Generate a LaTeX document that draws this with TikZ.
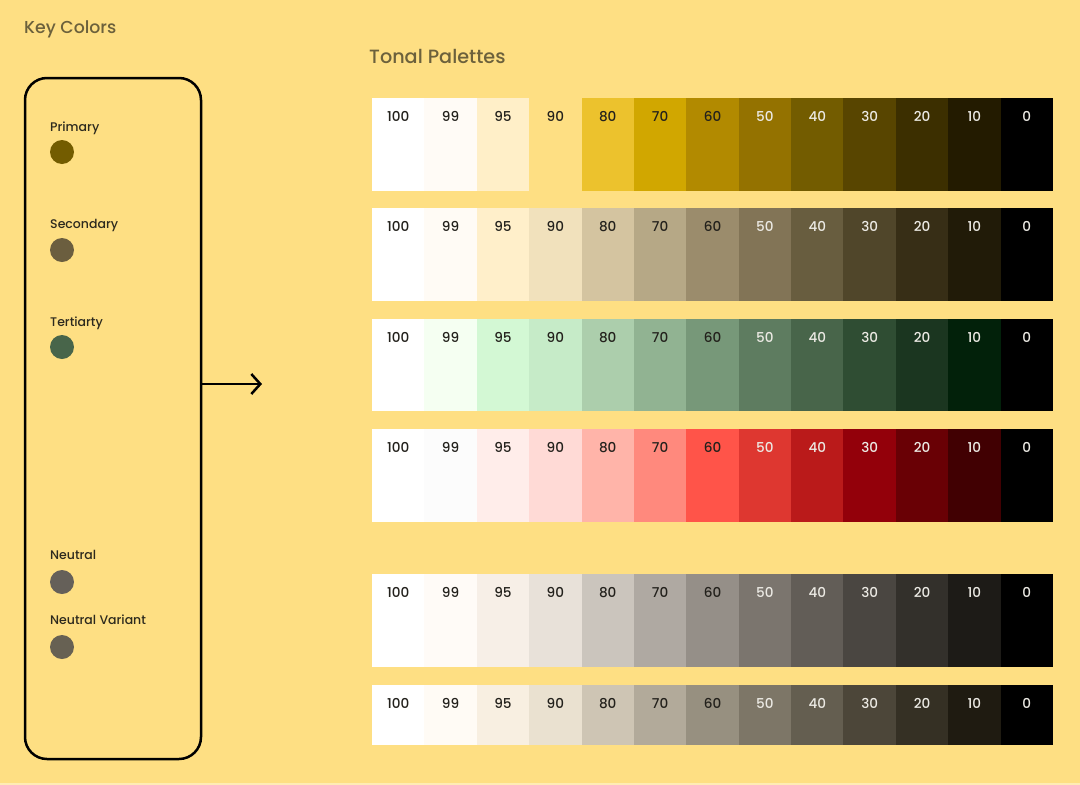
\documentclass[tikz,border=0pt]{standalone}
\usepackage{fontspec}
\setmainfont{Poppins}
\newfontfamily\titlefont{Poppins Medium}
\usetikzlibrary{arrows.meta}
\definecolor{bg}{RGB}{254,223,131}
\definecolor{titlec}{RGB}{108,97,60}
\definecolor{labc}{RGB}{45,42,30}
\definecolor{darknum}{RGB}{35,33,28}
\definecolor{lightnum}{RGB}{236,234,228}
% key colours
\definecolor{kprimary}{RGB}{115,92,0}
\definecolor{ksecondary}{RGB}{107,94,63}
\definecolor{ktertiary}{RGB}{72,101,74}
\definecolor{kneutral}{RGB}{101,96,89}
\definecolor{kneutralv}{RGB}{103,97,83}
% primary
\definecolor{p100}{RGB}{255,255,255}\definecolor{p99}{RGB}{255,251,246}\definecolor{p95}{RGB}{255,239,200}
\definecolor{p90}{RGB}{254,223,131}\definecolor{p80}{RGB}{236,194,45}\definecolor{p70}{RGB}{209,167,0}
\definecolor{p60}{RGB}{178,138,0}\definecolor{p50}{RGB}{148,114,0}\definecolor{p40}{RGB}{115,92,0}
\definecolor{p30}{RGB}{88,69,0}\definecolor{p20}{RGB}{60,47,0}\definecolor{p10}{RGB}{35,27,0}\definecolor{p0}{RGB}{0,0,0}
% secondary
\definecolor{s100}{RGB}{255,255,255}\definecolor{s99}{RGB}{255,251,245}\definecolor{s95}{RGB}{255,239,202}
\definecolor{s90}{RGB}{241,225,188}\definecolor{s80}{RGB}{212,196,160}\definecolor{s70}{RGB}{182,168,134}
\definecolor{s60}{RGB}{155,140,108}\definecolor{s50}{RGB}{130,116,86}\definecolor{s40}{RGB}{104,93,63}
\definecolor{s30}{RGB}{80,70,42}\definecolor{s20}{RGB}{55,46,22}\definecolor{s10}{RGB}{33,27,8}\definecolor{s0}{RGB}{0,0,0}
% tertiary
\definecolor{t100}{RGB}{255,255,255}\definecolor{t99}{RGB}{245,255,242}\definecolor{t95}{RGB}{211,248,212}
\definecolor{t90}{RGB}{198,235,200}\definecolor{t80}{RGB}{172,206,172}\definecolor{t70}{RGB}{145,179,146}
\definecolor{t60}{RGB}{119,152,121}\definecolor{t50}{RGB}{94,124,96}\definecolor{t40}{RGB}{72,101,74}
\definecolor{t30}{RGB}{47,77,51}\definecolor{t20}{RGB}{27,54,32}\definecolor{t10}{RGB}{2,33,10}\definecolor{t0}{RGB}{0,0,0}
% error
\definecolor{e100}{RGB}{255,255,255}\definecolor{e99}{RGB}{252,252,252}\definecolor{e95}{RGB}{255,237,234}
\definecolor{e90}{RGB}{255,218,214}\definecolor{e80}{RGB}{255,180,169}\definecolor{e70}{RGB}{255,137,125}
\definecolor{e60}{RGB}{255,84,73}\definecolor{e50}{RGB}{222,55,48}\definecolor{e40}{RGB}{186,26,26}
\definecolor{e30}{RGB}{147,0,10}\definecolor{e20}{RGB}{105,0,5}\definecolor{e10}{RGB}{65,0,2}\definecolor{e0}{RGB}{0,0,0}
% neutral
\definecolor{n100}{RGB}{255,255,255}\definecolor{n99}{RGB}{255,251,247}\definecolor{n95}{RGB}{247,239,231}
\definecolor{n90}{RGB}{232,225,217}\definecolor{n80}{RGB}{203,197,189}\definecolor{n70}{RGB}{175,169,162}
\definecolor{n60}{RGB}{149,143,136}\definecolor{n50}{RGB}{123,117,110}\definecolor{n40}{RGB}{98,93,87}
\definecolor{n30}{RGB}{74,70,65}\definecolor{n20}{RGB}{51,48,43}\definecolor{n10}{RGB}{29,27,23}\definecolor{n0}{RGB}{0,0,0}
% neutral variant
\definecolor{v100}{RGB}{255,255,255}\definecolor{v99}{RGB}{255,251,245}\definecolor{v95}{RGB}{248,239,225}
\definecolor{v90}{RGB}{234,225,208}\definecolor{v80}{RGB}{206,197,180}\definecolor{v70}{RGB}{178,170,154}
\definecolor{v60}{RGB}{151,144,128}\definecolor{v50}{RGB}{125,118,103}\definecolor{v40}{RGB}{100,94,80}
\definecolor{v30}{RGB}{76,70,57}\definecolor{v20}{RGB}{53,48,36}\definecolor{v10}{RGB}{31,27,17}\definecolor{v0}{RGB}{0,0,0}
\tikzset{
  cell/.style={inner sep=0pt, outer sep=0pt, minimum width=52.9pt, anchor=north west},
  num/.style={inner sep=0pt, font=\titlefont\fontsize{13.6}{15}\selectfont},
  keylabel/.style={anchor=west, inner sep=0pt, text=labc, font=\titlefont\fontsize{12.5}{14}\selectfont},
  keydot/.style={circle, inner sep=0pt, minimum size=24pt},
  title/.style={anchor=west, inner sep=0pt, text=titlec},
  keybox/.style={draw=black, line width=2.5pt, rounded corners=22pt, inner sep=0pt},
}
\begin{document}
\begin{tikzpicture}[x=1pt,y=-1pt]
\fill[bg] (0,0) rectangle (1080,785);
\fill[bg!60!white] (0,783) rectangle (1080,785);
\useasboundingbox (0,0) rectangle (1080,785);

\node[title, font=\titlefont\fontsize{17.3}{20}\selectfont] (keytitle) at (24,29) {Key Colors};
\node[title, font=\titlefont\fontsize{19.2}{23}\selectfont] (paltitle) at (369,56.5) {Tonal Palettes};

\node[keybox, minimum width=176pt, minimum height=681pt] (box) at (113,418.5) {};

\node[keylabel] (lprimary) at (50,128.5) {Primary};
\node[keydot, fill=kprimary] (dprimary) at (62,152) {};
\node[keylabel] (lsecondary) at (50,225.5) {Secondary};
\node[keydot, fill=ksecondary] (dsecondary) at (62,250) {};
\node[keylabel] (ltertiary) at (50,323.5) {Tertiarty};
\node[keydot, fill=ktertiary] (dtertiary) at (62,347) {};
\node[keylabel] (lneutral) at (50,554.5) {Neutral};
\node[keydot, fill=kneutral] (dneutral) at (62,582) {};
\node[keylabel] (lneutralv) at (50,619.5) {Neutral Variant};
\node[keydot, fill=kneutralv] (dneutralv) at (62,647) {};

\coordinate (arrowend) at (262,384);
\draw[line width=2.5pt, -{Straight Barb[length=9pt,width=20pt,line width=2.5pt]}] (box.east |- arrowend) -- (arrowend);

\foreach \r/\top/\h in {p/98/93, s/208/93, t/319/92, e/429/93, n/574/93, v/685/60} {
  \foreach \t [count=\i from 0] in {100,99,95,90,80,70,60,50,40,30,20,10,0} {
    \pgfmathsetmacro\xl{372+\i*52.385}
    \ifnum\t=0 \def\w{52.4pt}\else\def\w{52.9pt}\fi
    \node[cell, fill=\r\t, minimum height=\h pt, minimum width=\w] (\r\t) at (\xl,\top) {};
    \ifnum\i<7 \def\tc{darknum}\else\def\tc{lightnum}\fi
    \node[num, text=\tc] (\r\t l) at (\xl+26.2,\top+18.5) {\t};
  }
}
\end{tikzpicture}
\end{document}
